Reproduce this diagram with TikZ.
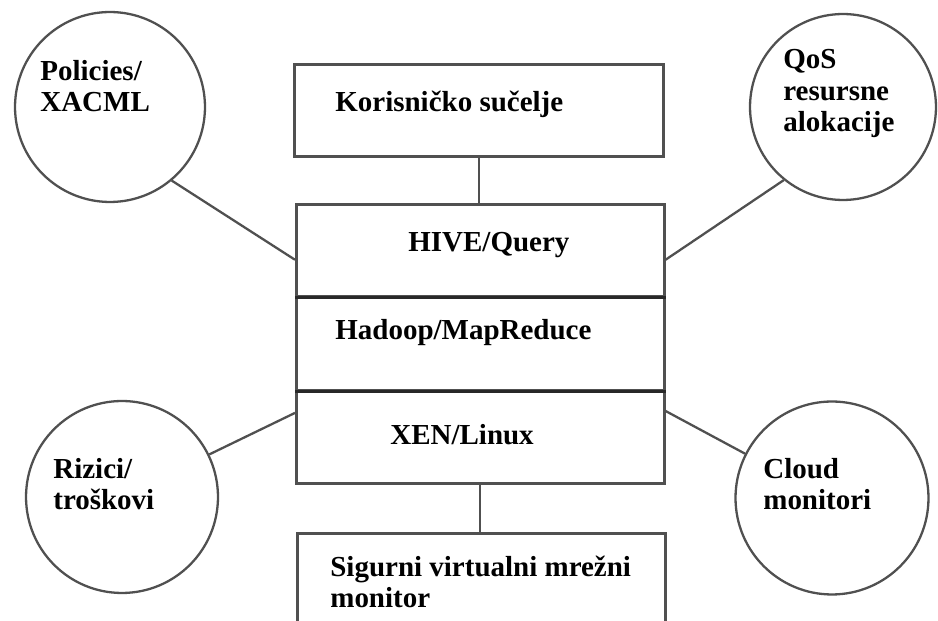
\documentclass[tikz,border=0pt]{standalone}
\usepackage{fontspec}
\setmainfont{Liberation Serif}
\usepackage{tikz}
\usetikzlibrary{positioning,calc}
\definecolor{edgegray}{RGB}{80,80,80}
\definecolor{darkline}{RGB}{40,40,40}

\begin{document}
\begin{tikzpicture}[x=0.02cm, y=-0.02cm,
    layer/.style={draw=edgegray, line width=1.5pt, minimum width=7.36cm, anchor=north west, inner sep=0pt},
    ring/.style={circle, draw=edgegray, line width=1.3pt, inner sep=0pt},
    link/.style={edgegray, line width=1.3pt},
    divider/.style={darkline, line width=2pt},
    lbl/.style={anchor=base west, inner sep=0pt, align=left, font=\fontsize{16.5}{18.2}\selectfont\bfseries}]
    \useasboundingbox (0,0) rectangle (938,621);

    % Layer boxes
    \node[layer, minimum width=7.38cm, minimum height=1.84cm] (kor) at (293,63) {};
    \node[layer, minimum height=1.84cm] (hive) at (295,203) {};
    \node[layer, minimum height=1.88cm] (hadoop) at (295,295) {};
    \node[layer, minimum height=1.86cm] (xen) at (295,389) {};
    \node[layer, minimum height=1.84cm] (sig) at (296,532) {};

    \draw[divider] (hive.south west) -- (hive.south east);
    \draw[divider] (hadoop.south west) -- (hadoop.south east);

    % Circles around the stack
    \node[ring, minimum size=3.8cm] (pol) at (110,107) {};
    \node[ring, minimum size=3.72cm] (qos) at (843,107) {};
    \node[ring, minimum size=3.84cm] (riz) at (122,497) {};
    \node[ring, minimum size=3.86cm] (cld) at (832,498) {};

    % Texts (multi-line ones sit on their last baseline)
    \node[lbl] (korT) at (335,112) {Korisničko sučelje};
    \node[lbl] (hiveT) at (408,252) {HIVE/Query};
    \node[lbl] (hadoopT) at (335,340) {Hadoop/MapReduce};
    \node[lbl] (xenT) at (390,445) {XEN/Linux};
    \node[lbl] (sigT) at (330,608) {Sigurni virtualni mrežni\\monitor};
    \node[lbl] (polT) at (40,112) {Policies/\\XACML};
    \node[lbl] (qosT) at (783,132) {QoS\\resursne\\alokacije};
    \node[lbl] (rizT) at (53,510) {Rizici/\\troškovi};
    \node[lbl] (cldT) at (763,510) {Cloud\\monitori};

    % Connectors
    \draw[link] (kor.south) -- (kor.south |- hive.north);
    \draw[link] (xen.south) -- (xen.south |- sig.north);
    \draw[link] (pol.-50) -- ($(hive.north west)!0.6!(hive.south west)$);
    \draw[link] (qos.-129) -- ($(hive.north east)!0.6!(hive.south east)$);
    \draw[link] (riz.26) -- ($(xen.north west)!0.25!(xen.south west)$);
    \draw[link] (cld.153) -- ($(xen.north east)!0.23!(xen.south east)$);
\end{tikzpicture}
\end{document}
